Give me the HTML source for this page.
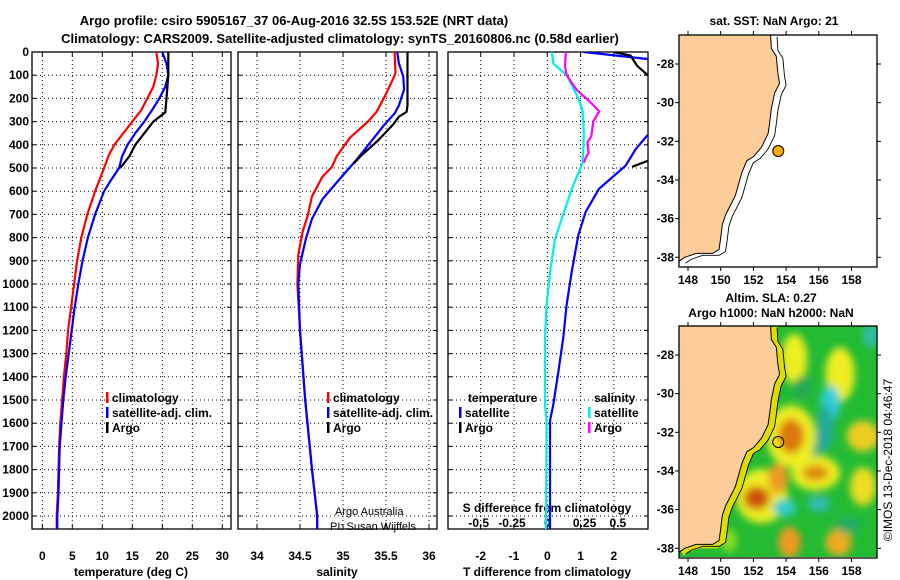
<!DOCTYPE html>
<html><head><meta charset="utf-8">
<style>
body{margin:0;background:#fff;}
svg{display:block;font-family:"Liberation Sans",Arial,sans-serif;}
.t{font-weight:bold;font-size:13px;}
.tk{font-weight:bold;font-size:12px;}
</style></head>
<body>
<svg id="fig" width="900" height="580" viewBox="0 0 900 580">
<defs>
<clipPath id="c1"><rect x="32" y="52" width="199" height="477"/></clipPath>
<clipPath id="c2"><rect x="238" y="52" width="199" height="477"/></clipPath>
<clipPath id="c3"><rect x="448" y="52" width="200" height="477"/></clipPath>
<clipPath id="cm1"><rect x="679" y="35" width="198" height="232"/></clipPath>
<clipPath id="cm2"><rect x="679" y="326" width="198" height="231"/></clipPath>
<filter id="blur" x="-50%" y="-50%" width="200%" height="200%"><feGaussianBlur stdDeviation="4"/></filter>
</defs>
<text x="294" y="25" text-anchor="middle" class="t" font-size="14">Argo profile: csiro 5905167_37 06-Aug-2016 32.5S 153.52E (NRT data)</text>
<text x="340" y="43" text-anchor="middle" class="t" font-size="14">Climatology: CARS2009. Satellite-adjusted climatology: synTS_20160806.nc (0.58d earlier)</text>
<g id="g"></g>
<text x="335" y="515" font-size="11">Argo Australia</text>
<text x="330" y="530" font-size="11">PI: Susan Wijffels</text>
<text transform="translate(892,460) rotate(-90)" text-anchor="middle" font-size="12">©IMOS 13-Dec-2018 04:46:47</text>
</svg>
<script>
const depthTicks=[0,100,200,300,400,500,600,700,800,900,1000,1100,1200,1300,1400,1500,1600,1700,1800,1900,2000];
const climTDepth=[0,50,100,150,200,250,300,350,400,450,500,600,700,800,900,1000,1100,1200,1300,1400,1500,1600,1700,1800,1900,2000,2056];
const climT=[19,19.3,19,18.5,17.5,16.5,15,13.5,12,11,10.3,8.8,7.5,6.5,5.8,5.3,4.8,4.3,4,3.6,3.3,3,2.8,2.7,2.6,2.4,2.4];
const satTDepth=[0,50,100,150,200,250,300,350,400,450,500,550,600,700,800,900,1000,1100,1200,1300,1400,1500,1600,1700,1800,1900,2000,2056];
const satT=[20,20.7,21,20.5,19.5,18.3,17,15.5,14.2,13.3,12.8,11.5,10.3,8.8,7.6,6.7,6,5.4,4.9,4.4,3.9,3.5,3.2,2.9,2.8,2.7,2.5,2.5];
const argoTDepth=[0,100,200,260,300,350,400,450,500];
const argoT=[21,21,20.7,20.5,18.5,17,15.5,14.5,13];
const climSDepth=[0,90,105,189,258,300,370,447,496,538,622,705,775,873,1000,1200,1500,1800,2000,2056];
const climS=[35.60,35.61,35.595,35.49,35.39,35.29,35.08,34.93,34.87,34.76,34.64,34.59,34.53,34.48,34.47,34.5,34.56,34.64,34.7,34.7];
const satSDepth=[0,49,105,161,230,265,314,384,454,489,552,635,719,803,915,1000,1200,1500,1800,2000,2056];
const satS=[35.63,35.65,35.70,35.71,35.65,35.60,35.48,35.33,35.18,35.10,34.95,34.76,34.64,34.57,34.50,34.48,34.5,34.56,34.64,34.7,34.7];
const argoSDepth=[0,230,258,279,314,384,447,482];
const argoS=[35.75,35.75,35.74,35.65,35.58,35.40,35.21,35.12];
const dTsatDepth=[0,30,60,350,360,420,490,590,690,790,950,1090,1230,1380,1520,1590,2000,2056];
const dTsat=[1.1,3.0,3.6,3.6,3.0,2.65,2.35,1.55,1.15,0.93,0.73,0.58,0.48,0.33,0.18,0.08,0.08,0.08];
const dTargoDepth=[0,15,60,110,130,450,470,495];
const dTargo=[2.0,2.5,2.7,3.1,3.6,3.6,3.0,2.55];
const dSsatDepth=[0,49,100,200,256,349,477,591,691,806,949,1091,1234,1520,1591,2000,2056];
const dSsat=[0.033,0.045,0.146,0.233,0.266,0.275,0.266,0.183,0.125,0.058,0.02,-0.005,-0.017,-0.017,-0.005,-0.01,-0.01];
const dSargoDepth=[0,63,100,163,220,256,299,363,390,434,460,477];
const dSargo=[0.14,0.133,0.146,0.22,0.33,0.39,0.345,0.33,0.30,0.31,0.285,0.275];
const tTicks=[0,5,10,15,20,25,30];
const sTicks=[34,34.5,35,35.5,36];
const sTickLabels=["34","34.5","35","35.5","36"];
const dTTicks=[-2,-1,0,1,2];
const dSTicks=[-0.5,-0.25,0,0.25,0.5];
const dSTickLabels=["-0.5","-0.25","0","0.25","0.5"];
const lonTicks=[148,150,152,154,156,158];
const latTicks=[-28,-30,-32,-34,-36,-38];
const floatLon=153.52, floatLat=-32.5;
const coastLon=[153.05,153.1,153.4,153.5,153.6,153.3,153.1,153.0,152.9,152.5,152.0,151.6,151.3,151.1,150.9,150.6,150.3,150.1,150.0,149.9,149.5,148.5,147.8,147.45];
const coastLat=[-26.5,-27.2,-27.6,-28.5,-29,-29.5,-30.3,-31,-31.6,-32.3,-32.8,-33.0,-33.6,-34.2,-34.8,-35.3,-35.8,-36.3,-37.0,-37.6,-37.8,-37.8,-38.0,-38.2];
const blobLon=[155.5,157.3,156.7,156.4,154.3,154.3,158.7,155.8,155.8,152.5,152.2,153.5,153.9,156.0,154.2,157.2,158.7,159.2,154.5,157.8,155.0,150.5];
const blobLat=[-33,-29,-30.5,-31.8,-32.2,-32.2,-32.2,-34.1,-34.1,-35.3,-35.4,-34.4,-35.9,-35.7,-37.7,-37.7,-34.8,-27,-28.2,-36.8,-29.7,-37.6];
const blobRx=[0.6,0.9,0.6,0.5,1.5,0.8,1.0,1.5,0.8,1.6,0.8,0.6,0.7,0.7,0.7,0.8,0.8,0.5,0.8,0.8,0.6,0.5];
const blobRy=[1.2,1.4,0.9,1.2,1.6,0.9,0.8,0.9,0.4,1.4,0.6,0.8,0.45,0.4,0.8,0.7,1.0,0.6,1.3,0.4,0.6,0.6];
const blobCol=["#22aa88","#eeee22","#33ccdd","#22aa99","#eeee22","#dd7711","#eecc22","#eeee22","#dd8811","#eeee22","#cc5511","#ee9922","#33cccc","#33bbbb","#ee9922","#eeaa22","#eedd22","#33bbaa","#eeee22","#22aa66","#22aa55","#88dd22"];

const NS="http://www.w3.org/2000/svg";
const G=document.getElementById('g');
function mk(tag,attrs,parent){const e=document.createElementNS(NS,tag);for(const k in attrs)e.setAttribute(k,attrs[k]);(parent||G).appendChild(e);return e;}
const y0=52,yb=529;
function yD(d){return 52+d*0.232;}
function xT(v){return 42.3+v*6;}
function xS(v){return 257+(v-34)*86;}
function xDT(v){return 547.3+v*33.3;}
function xDS(v){return 547.3+v*133.2;}
function pts(xs,ds,fx){return xs.map((v,i)=>fx(v).toFixed(1)+","+yD(ds[i]).toFixed(1)).join(" ");}

function panel(x0,x1,name,vgrid,fx,showY){
  const fr=mk('rect',{x:x0,y:y0,width:x1-x0,height:yb-y0,fill:'none',stroke:'#000','stroke-width':1.3});
  
  
  depthTicks.forEach((d,i)=>{
    const y=yD(d);
    const gl=mk('line',{x1:x0,x2:x1,y1:y,y2:y,stroke:'#000','stroke-dasharray':'1,3','stroke-width':1});
    
    
    mk('line',{x1:x0,x2:x0+4,y1:y,y2:y,stroke:'#000'});
    mk('line',{x1:x1-4,x2:x1,y1:y,y2:y,stroke:'#000'});
    if(showY){
      const t=mk('text',{x:29,y:y+4,'text-anchor':'end',class:'tk'});
      t.textContent=d;
      
      
    }
  });
  vgrid.forEach(v=>{
    const x=fx(v);
    const gl=mk('line',{x1:x,x2:x,y1:y0,y2:yb,stroke:'#000','stroke-dasharray':'1,3'});
    
    
    mk('line',{x1:x,x2:x,y1:yb-4,y2:yb,stroke:'#000'});
    mk('line',{x1:x,x2:x,y1:y0,y2:y0+4,stroke:'#000'});
  });
}
function line(xs,ds,fx,col,clip,name){
  const p=mk('polyline',{points:pts(xs,ds,fx),fill:'none',stroke:col,'stroke-width':2.2,'clip-path':'url(#'+clip+')'});
  
  
}
function txt(x,y,s,name,anchor,cls){
  const t=mk('text',{x:x,y:y,'text-anchor':anchor||'middle',class:cls||'tk'});
  t.textContent=s;
  
  
  return t;
}
function legend(x,y,col,label,name){
  mk('rect',{x:x,y:y-10,width:2.5,height:11,fill:col});
  txt(x+6,y,label,name,'start');
}
panel(32,231,'temperature-panel',tTicks,xT,true);
tTicks.forEach(v=>txt(xT(v),560,v,'temperature-tick-label'));
txt(131,576,'temperature (deg C)','temperature-axis-title');
line(climT,climTDepth,xT,'#ff0000','c1','temperature-climatology-line');
line(satT,satTDepth,xT,'#0000ff','c1','temperature-satellite-line');
line(argoT,argoTDepth,xT,'#000000','c1','temperature-argo-line');
legend(106,402,'#ff0000','climatology','legend-climatology');
legend(106,417,'#0000ff','satellite-adj. clim.','legend-satellite');
legend(106,432,'#000000','Argo','legend-argo');
panel(238,437,'salinity-panel',sTicks,xS,false);
sTicks.forEach((v,i)=>txt(xS(v),560,sTickLabels[i],'salinity-tick-label'));
txt(337,576,'salinity','salinity-axis-title');
line(climS,climSDepth,xS,'#ff0000','c2','salinity-climatology-line');
line(satS,satSDepth,xS,'#0000ff','c2','salinity-satellite-line');
line(argoS,argoSDepth,xS,'#000000','c2','salinity-argo-line');
legend(327,402,'#ff0000','climatology','legend-climatology-s');
legend(327,417,'#0000ff','satellite-adj. clim.','legend-satellite-s');
legend(327,432,'#000000','Argo','legend-argo-s');
panel(448,648,'difference-panel',dTTicks,xDT,false);
dTTicks.forEach(v=>txt(xDT(v),560,v,'t-difference-tick-label'));
txt(547,576,'T difference from climatology','t-difference-axis-title');
txt(547,512,'S difference from climatology','s-difference-axis-title');
dSTicks.forEach((v,i)=>txt(xDS(v)+(v<0?-2:v>0?4:0),527,dSTickLabels[i],'s-difference-tick-label'));
line(dSsat,dSsatDepth,xDS,'#00eeee','c3','s-difference-satellite-line');
line(dSargo,dSargoDepth,xDS,'#ff00ff','c3','s-difference-argo-line');
line(dTsat,dTsatDepth,xDT,'#0000ff','c3','t-difference-satellite-line');
line(dTargo,dTargoDepth,xDT,'#000000','c3','t-difference-argo-line');
txt(468,402,'temperature','legend-temperature-heading','start');
legend(459,417,'#0000ff','satellite','legend-t-satellite');
legend(459,432,'#000000','Argo','legend-t-argo');
txt(594,402,'salinity','legend-salinity-heading','start');
legend(588,417,'#00eeee','satellite','legend-s-satellite');
legend(588,432,'#ff00ff','Argo','legend-s-argo');

function mapX(lon){return 679+(lon-147.45)*16.35;}
function makeMap(top,clip,name,sla){
  const bot=top+232;
  const mY=lat=>top+(-26.5-lat)*19.33;
  const gm=mk('g',{'clip-path':'url(#'+clip+')'});
  
  
  mk('rect',{x:679,y:top,width:198,height:232,fill:sla?'#22bb33':'#fff'},gm);
  const isoPts=coastLon.map((l,i)=>mapX(l+0.4)+","+mY(coastLat[i]-0.1)).join(" ");
  if(sla){
    const gb=mk('g',{filter:'url(#blur)'},gm);
    blobLon.forEach((l,i)=>{
      const e=mk('ellipse',{cx:mapX(l),cy:mY(blobLat[i]),rx:blobRx[i]*16.35,ry:blobRy[i]*19.33,fill:blobCol[i]},gb);
      
      
    });
    const shelf=coastLon.map((l,i)=>mapX(l+0.2)+","+mY(coastLat[i]-0.05)).join(" ");
    mk('polyline',{points:shelf,fill:'none',stroke:'#dddd00','stroke-width':6},gm);
  }
  const land=coastLon.map((l,i)=>mapX(l)+","+mY(coastLat[i])).join(" ")+" 679,"+bot+" 679,"+top;
  const lp=mk('polygon',{points:land,fill:'#fccc99',stroke:'#000','stroke-width':1},gm);
  
  
  const ip=mk('polyline',{points:isoPts,fill:'none',stroke:'#000','stroke-width':0.9},gm);
  
  
  const fl=mk('circle',{cx:mapX(floatLon),cy:mY(floatLat),r:5.5,fill:sla?'none':'#ffaa00',stroke:'#000','stroke-width':1},gm);
  
  
  const fr=mk('rect',{x:679,y:top,width:198,height:232,fill:'none',stroke:'#000','stroke-width':1.3});
  
  
  lonTicks.forEach(l=>{
    const x=mapX(l);
    mk('line',{x1:x,x2:x,y1:bot,y2:bot+4,stroke:'#000'});
    mk('line',{x1:x,x2:x,y1:top-4,y2:top,stroke:'#000'});
    txt(x,bot+17,l,'longitude-tick-label');
  });
  latTicks.forEach(la=>{
    const y=mY(la);
    mk('line',{x1:675,x2:679,y1:y,y2:y,stroke:'#000'});
    mk('line',{x1:877,x2:881,y1:y,y2:y,stroke:'#000'});
    txt(674,y+4,la,'latitude-tick-label','end');
  });
}
makeMap(35,'cm1','sst-map',false);
makeMap(326,'cm2','sla-map',true);
txt(774,25,'sat. SST: NaN Argo: 21','sst-map-title');
txt(771,302,'Altim. SLA: 0.27','sla-map-title');
txt(771,317,'Argo h1000: NaN h2000: NaN','sla-map-subtitle');
</script>
</body></html>
